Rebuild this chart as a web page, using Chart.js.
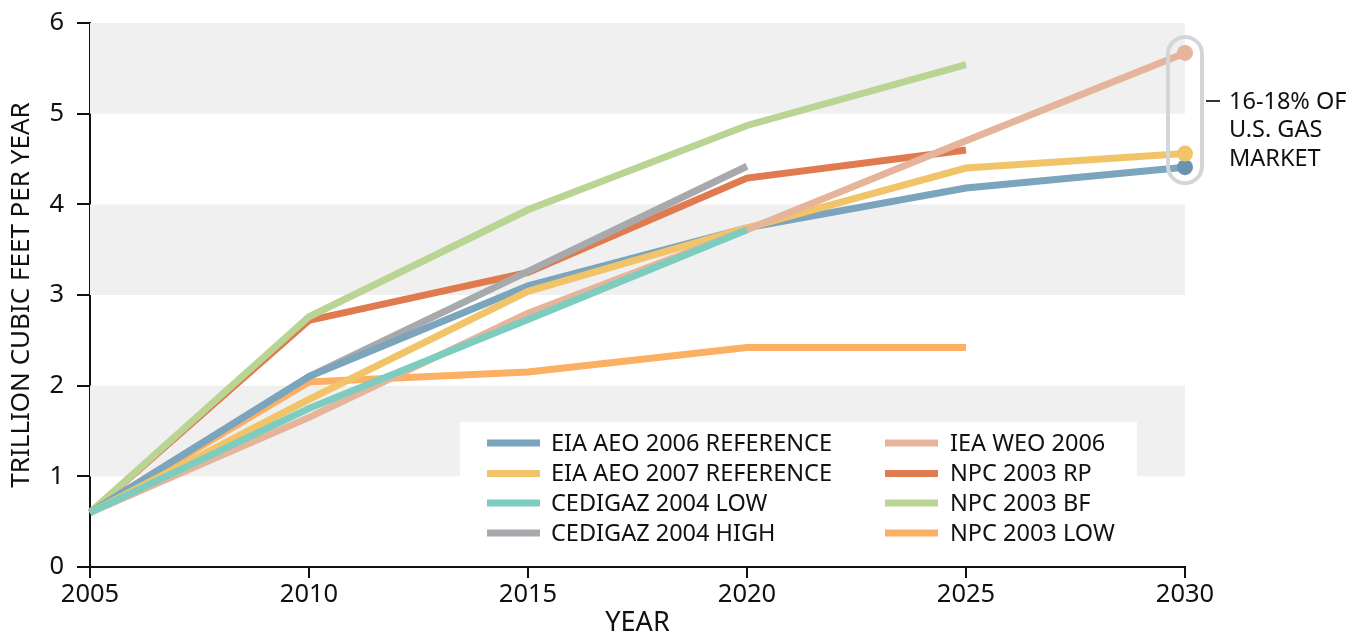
<!DOCTYPE html>
<html>
<head>
<meta charset="utf-8">
<script src="https://cdn.jsdelivr.net/npm/chart.js@4"></script>
<style>
html,body{margin:0;padding:0;background:#fff;}
#wrap{position:relative;width:1361px;height:634px;}
</style>
</head>
<body>
<div id="wrap"><canvas id="c" width="1361" height="634"></canvas></div>
<script>
// ---- data ----
const years = [2005, 2010, 2015, 2020, 2025, 2030];
const seriesNames = ["EIA AEO 2006 REFERENCE","EIA AEO 2007 REFERENCE","CEDIGAZ 2004 LOW","CEDIGAZ 2004 HIGH","IEA WEO 2006","NPC 2003 RP","NPC 2003 BF","NPC 2003 LOW"];
const eia2006   = [0.6, 2.10, 3.10, 3.74, 4.18, 4.41];
const eia2007   = [0.6, 1.85, 3.04, 3.74, 4.40, 4.56];
const cedLow    = [0.6, 1.75, 2.73, 3.72];
const cedHigh   = [0.6, 2.10, 3.26, 4.42];
const ieaWeo    = [0.6, 1.65, 2.80, 3.72, 4.70, 5.67];
const npcRP     = [0.6, 2.72, 3.25, 4.29, 4.60];
const npcBF     = [0.6, 2.76, 3.94, 4.87, 5.54];
const npcLow    = [0.6, 2.04, 2.15, 2.42, 2.42];
const seriesColors = ["#7ba4bd","#f2c46a","#7ccdbf","#a7a9ac","#e5b49b","#e07a4f","#bad593","#fbb063"];
const markerColors = ["#6a93b0","#f2c46a",null,null,"#e5b49b",null,null,null];
const yTicks = [0,1,2,3,4,5,6];
const xTicks = [2005,2010,2015,2020,2025,2030];
const bands = [[1,2],[3,4],[5,6]];
const annotationLines = ["16-18% OF","U.S. GAS","MARKET"];
const drawOrder = [3,2,0,4,1,6,5,7]; // lower = drawn on top

const FONT = "'Noto Sans', sans-serif";
const allSeries = [eia2006, eia2007, cedLow, cedHigh, ieaWeo, npcRP, npcBF, npcLow];

const datasets = allSeries.map((vals, i) => {
  const pts = vals.map((v, j) => ({x: years[j], y: v}));
  const last = vals.length - 1;
  return {
    label: seriesNames[i],
    data: pts,
    borderColor: seriesColors[i],
    backgroundColor: markerColors[i] || seriesColors[i],
    borderWidth: 7,
    borderCapStyle: 'butt',
    borderJoinStyle: 'miter',
    tension: 0,
    fill: false,
    order: drawOrder[i],
    pointRadius: vals.map((v, j) => (markerColors[i] && j === last && years[j] === 2030) ? 8 : 0),
    pointBorderWidth: 0,
    pointHoverRadius: 0,
    clip: false
  };
});

const bgPlugin = {
  id: 'bands',
  beforeDatasetsDraw(chart) {
    const {ctx, chartArea, scales} = chart;
    ctx.save();
    ctx.fillStyle = '#f0f0f0';
    bands.forEach(([a, b]) => {
      const y1 = scales.y.getPixelForValue(b), y2 = scales.y.getPixelForValue(a);
      ctx.fillRect(chartArea.left, y1, chartArea.right - chartArea.left, y2 - y1);
    });
    ctx.restore();
  },
  afterDatasetsDraw(chart) {
    const {ctx, scales} = chart;
    ctx.save();
    // legend box
    const lx = 460, ly = 422, lw = 677, lh = 120;
    ctx.fillStyle = '#ffffff';
    ctx.fillRect(lx, ly, lw, lh);
    ctx.font = "23.5px " + FONT;
    ctx.textBaseline = 'middle';
    ctx.textAlign = 'left';
    const rows = [443, 473.5, 503, 533];
    const cols = [[487, 551], [885, 950]];
    seriesNames.forEach((name, i) => {
      const c = cols[Math.floor(i / 4)], r = rows[i % 4];
      ctx.fillStyle = seriesColors[i];
      ctx.fillRect(c[0], r - 3.5, 53, 7);
      ctx.fillStyle = '#111';
      ctx.fillText(name, c[1], r + 1);
    });
    // annotation bracket
    const xp = scales.x.getPixelForValue(2030);
    const ends = [eia2006, eia2007, ieaWeo].map(a => a[a.length - 1]);
    const yTop = scales.y.getPixelForValue(Math.max(...ends)) - 16;
    const yBot = scales.y.getPixelForValue(Math.min(...ends)) + 16;
    ctx.strokeStyle = '#d4d5d6';
    ctx.lineWidth = 4;
    ctx.beginPath();
    ctx.roundRect(xp - 17, yTop, 34, yBot - yTop, 17);
    ctx.stroke();
    // connector
    const ty = 101;
    ctx.strokeStyle = '#333';
    ctx.lineWidth = 2;
    ctx.beginPath();
    ctx.moveTo(xp + 21, ty); ctx.lineTo(xp + 35, ty);
    ctx.stroke();
    ctx.fillStyle = '#111';
    ctx.font = "23.5px " + FONT;
    annotationLines.forEach((t, k) => ctx.fillText(t, xp + 44, ty + 1 + k * 28.5));
    ctx.restore();
  }
};

new Chart(document.getElementById('c'), {
  type: 'line',
  data: {datasets},
  plugins: [bgPlugin],
  options: {
    responsive: false,
    animation: false,
    events: [],
    layout: {padding: {top: 23, right: 176, left: 0, bottom: 0}},
    plugins: {legend: {display: false}, tooltip: {enabled: false}},
    scales: {
      x: {
        type: 'linear', min: 2005, max: 2030,
        afterBuildTicks(s) { s.ticks = xTicks.map(v => ({value: v})); },
        afterFit(s) { s.height = 67; s.paddingLeft = 0; s.paddingRight = 0; },
        ticks: {color: '#111', font: {family: FONT, size: 25.5}, padding: 1, maxRotation: 0, callback: v => String(v)},
        grid: {drawOnChartArea: false, drawTicks: true, tickLength: 11, color: '#111', lineWidth: 2},
        border: {color: '#111', width: 2},
        title: {display: true, text: 'YEAR', color: '#111', font: {family: FONT, size: 27}, padding: {top: 0, bottom: -6}}
      },
      y: {
        min: 0, max: 6,
        afterBuildTicks(s) { s.ticks = yTicks.map(v => ({value: v})); },
        afterFit(s) { s.width = 90; s.paddingTop = 0; s.paddingBottom = 0; },
        ticks: {color: '#111', font: {family: FONT, size: 25.5}, padding: 13},
        grid: {drawOnChartArea: false, drawTicks: true, tickLength: 13, color: '#111', lineWidth: 2},
        border: {color: '#111', width: 2},
        title: {display: true, text: 'TRILLION CUBIC FEET PER YEAR', color: '#111', font: {family: FONT, size: 26}, padding: {top: 6, bottom: 0}}
      }
    }
  }
});
</script>
</body>
</html>
